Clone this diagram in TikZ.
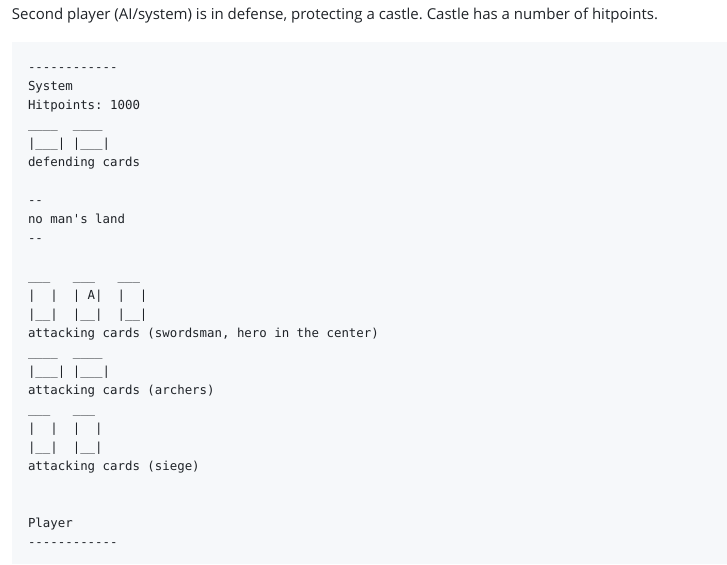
\documentclass[tikz,border=0pt]{standalone}
\usepackage{fontspec}
\usepackage{tikz}

\newfontfamily\headfont{Open Sans}
\newfontfamily\codefont{DejaVu Sans Mono}
\definecolor{codebg}{HTML}{F6F8FA}
\definecolor{ink}{HTML}{1F2328}
\frenchspacing

\begin{document}
\begin{tikzpicture}[x=1pt, y=-1pt,
    inner sep=0pt, outer sep=0pt,%
    head/.style={anchor=base west, text=ink, font=\headfont\fontsize{15}{18}\selectfont},
    code/.style={anchor=base west, text=ink, font=\codefont\fontsize{12.4}{19}\selectfont},
]
    % Frame
    \useasboundingbox (0,0) rectangle (727,564);
    \fill[codebg] (12,42) rectangle (727,564);

    % Caption above the block
    \node[head] (caption) at (12,20)
        {Second player (AI/system) is in defense, protecting a castle. Castle has a number of hitpoints.};

    % System side
    \node[code] (topRule)   at (28, 71.5) {------------};
    \node[code] (system)    at (28, 90.5) {System};
    \node[code] (hitpoints) at (28,109.5) {Hitpoints: 1000};
    \node[code] (defTop)    at (28,128.5) {\_\_\_\_\ \ \_\_\_\_};
    \node[code] (defBottom) at (28,147.5) {|\_\_\_|\ |\_\_\_|};
    \node[code] (defLabel)  at (28,166.5) {defending cards};

    % No man's land
    \node[code] (landTop)   at (28,204.5) {--};
    \node[code] (land)      at (28,223.5) {no man's land};
    \node[code] (landBot)   at (28,242.5) {--};

    % Swordsmen row
    \node[code] (swordTop)  at (28,280.5) {\_\_\_\ \ \ \_\_\_\ \ \ \_\_\_};
    \node[code] (swordMid)  at (28,299.5) {|\ \ |\ \ |\ A|\ \ |\ \ |};
    \node[code] (swordBot)  at (28,318.5) {|\_\_|\ \ |\_\_|\ \ |\_\_|};
    \node[code] (swordLbl)  at (28,337.5) {attacking cards (swordsman, hero in the center)};

    % Archers row
    \node[code] (archTop)   at (28,356.5) {\_\_\_\_\ \ \_\_\_\_};
    \node[code] (archBot)   at (28,375.5) {|\_\_\_|\ |\_\_\_|};
    \node[code] (archLbl)   at (28,394.5) {attacking cards (archers)};

    % Siege row
    \node[code] (siegeTop)  at (28,413.5) {\_\_\_\ \ \ \_\_\_};
    \node[code] (siegeMid)  at (28,432.5) {|\ \ |\ \ |\ \ |};
    \node[code] (siegeBot)  at (28,451.5) {|\_\_|\ \ |\_\_|};
    \node[code] (siegeLbl)  at (28,470.5) {attacking cards (siege)};

    % Player side
    \node[code] (player)    at (28,527.5) {Player};
    \node[code] (botRule)   at (28,546.5) {------------};
\end{tikzpicture}
\end{document}
